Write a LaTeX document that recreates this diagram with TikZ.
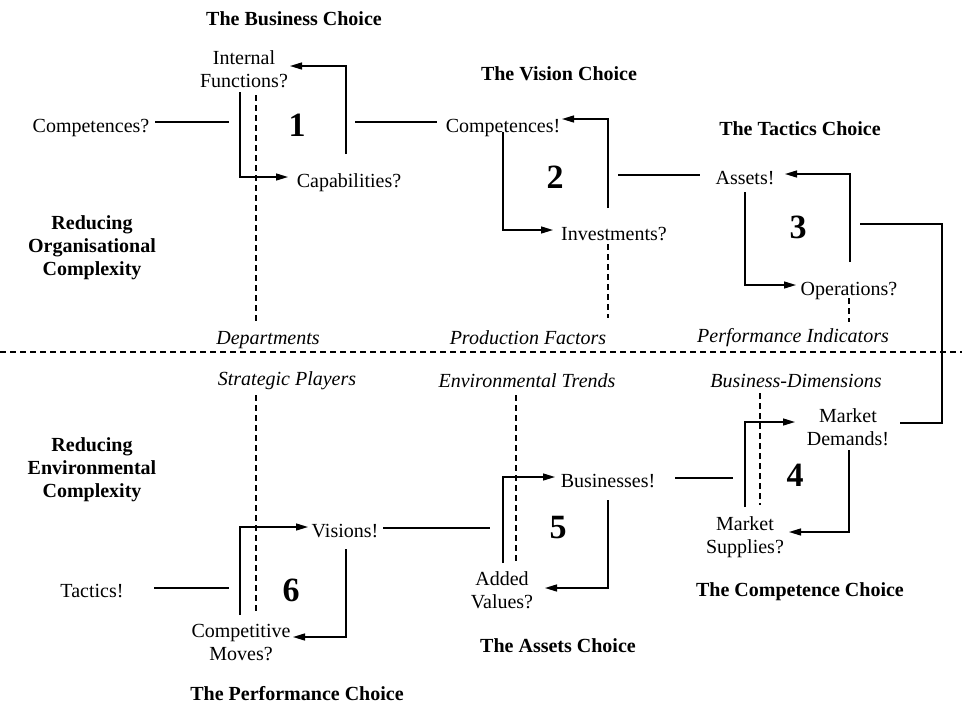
\documentclass[tikz,border=0pt]{standalone}
\usepackage{fontspec}
\setmainfont{Liberation Serif}
\usetikzlibrary{arrows.meta}
\begin{document}
\begin{tikzpicture}[x=1pt,y=-1pt,
  lbl/.style={inner sep=0pt, align=center, font=\fontsize{20}{23}\selectfont},
  ttl/.style={inner sep=0pt, align=center, font=\fontsize{20}{23}\selectfont\bfseries},
  dimlbl/.style={inner sep=0pt, align=center, font=\fontsize{20}{23}\selectfont\itshape},
  num/.style={inner sep=0pt, font=\fontsize{34}{40}\selectfont\bfseries},
  link/.style={line width=1.4pt},
  flow/.style={link, -{Triangle[length=12pt,width=7pt]}},
  guide/.style={line width=1.1pt, dash pattern=on 6pt off 4pt},
]
\useasboundingbox (0,0) rectangle (962,705);

% ---------- side captions ----------
\node[ttl] (orgcx) at (92,248) {Reducing\\Organisational\\Complexity};
\node[ttl] (envcx) at (92,470) {Reducing\\Environmental\\Complexity};

% ---------- divider between the two halves ----------
\coordinate (divL) at (0,352);
\coordinate (divR) at (962,352);
\draw[guide] (divL) -- (divR);

% ---------- 1: the business choice ----------
\node[ttl] (t1) at (294,19) {The Business Choice};
\node[lbl] (intf) at (244,69) {Internal\\Functions?};
\node[lbl] (compq) at (91,128) {Competences?};
\node[lbl] (capq) at (349,183) {Capabilities?};
\node[num] (n1) at (297,125) {1};
\node[dimlbl] (dept) at (268,340) {Departments};
\coordinate (a1s) at (240,92);  \coordinate (a1k) at (240,177); \coordinate (a1t) at (288,177);
\coordinate (b1s) at (346,154); \coordinate (b1k) at (346,66);  \coordinate (b1t) at (290,66);
\coordinate (d1s) at (256,95);  \coordinate (d1e) at (256,321);
\coordinate (l1s) at (155,122); \coordinate (l1e) at (229,122);
\coordinate (m1s) at (355,122); \coordinate (m1e) at (437,122);
\draw[flow] (a1s) -- (a1k) -- (a1t);
\draw[flow] (b1s) -- (b1k) -- (b1t);
\draw[guide] (d1s) -- (d1e);
\draw[link] (l1s) -- (l1e);
\draw[link] (m1s) -- (m1e);

% ---------- 2: the vision choice ----------
\node[ttl] (t2) at (559,74) {The Vision Choice};
\node[lbl] (compx) at (503,128) {Competences!};
\node[lbl] (invq) at (614,234) {Investments?};
\node[num] (n2) at (555,177) {2};
\node[dimlbl] (prodf) at (528,338) {Production Factors};
\coordinate (a2s) at (503,132); \coordinate (a2k) at (503,230); \coordinate (a2t) at (553,230);
\coordinate (b2s) at (608,208); \coordinate (b2k) at (608,119); \coordinate (b2t) at (562,119);
\coordinate (d2s) at (608,244); \coordinate (d2e) at (608,318);
\coordinate (m2s) at (618,175); \coordinate (m2e) at (700,175);
\draw[flow] (a2s) -- (a2k) -- (a2t);
\draw[flow] (b2s) -- (b2k) -- (b2t);
\draw[guide] (d2s) -- (d2e);
\draw[link] (m2s) -- (m2e);

% ---------- 3: the tactics choice ----------
\node[ttl] (t3) at (800,129) {The Tactics Choice};
\node[lbl] (assx) at (745,178) {Assets!};
\node[lbl] (opsq) at (849,291) {Operations?};
\node[num] (n3) at (798,227) {3};
\node[dimlbl] (perfi) at (793,338) {Performance Indicators};
\coordinate (a3s) at (745,192); \coordinate (a3k) at (745,285); \coordinate (a3t) at (796,285);
\coordinate (b3s) at (850,262); \coordinate (b3k) at (850,174); \coordinate (b3t) at (785,174);
\coordinate (d3s) at (849,298); \coordinate (d3e) at (849,322);
\coordinate (m3s) at (860,224); \coordinate (m3k) at (942,224);
\coordinate (m3j) at (942,423); \coordinate (m3e) at (900,423);
\draw[flow] (a3s) -- (a3k) -- (a3t);
\draw[flow] (b3s) -- (b3k) -- (b3t);
\draw[guide] (d3s) -- (d3e);
\draw[link] (m3s) -- (m3k) -- (m3j) -- (m3e);

% ---------- 4: the competence choice ----------
\node[dimlbl] (bdim) at (796,381) {Business-Dimensions};
\node[lbl] (mdem) at (848,427) {Market\\Demands!};
\node[lbl] (msup) at (745,537) {Market\\Supplies?};
\node[num] (n4) at (795,475) {4};
\node[ttl] (t4) at (800,592) {The Competence Choice};
\coordinate (a4s) at (745,507); \coordinate (a4k) at (745,422); \coordinate (a4t) at (795,422);
\coordinate (b4s) at (849,450); \coordinate (b4k) at (849,532); \coordinate (b4t) at (789,532);
\coordinate (d4s) at (760,393); \coordinate (d4e) at (760,505);
\coordinate (m4s) at (675,478); \coordinate (m4e) at (733,478);
\draw[flow] (a4s) -- (a4k) -- (a4t);
\draw[flow] (b4s) -- (b4k) -- (b4t);
\draw[guide] (d4s) -- (d4e);
\draw[link] (m4s) -- (m4e);

% ---------- 5: the assets choice ----------
\node[dimlbl] (envt) at (527,381) {Environmental Trends};
\node[lbl] (busx) at (608,481) {Businesses!};
\node[lbl] (addv) at (502,590) {Added\\Values?};
\node[num] (n5) at (558,528) {5};
\node[ttl] (t5) at (558,646) {The Assets Choice};
\coordinate (a5s) at (503,563); \coordinate (a5k) at (503,477); \coordinate (a5t) at (555,477);
\coordinate (b5s) at (608,500); \coordinate (b5k) at (608,588); \coordinate (b5t) at (545,588);
\coordinate (d5s) at (516,395); \coordinate (d5e) at (516,563);
\coordinate (m5s) at (383,528); \coordinate (m5e) at (490,528);
\draw[flow] (a5s) -- (a5k) -- (a5t);
\draw[flow] (b5s) -- (b5k) -- (b5t);
\draw[guide] (d5s) -- (d5e);
\draw[link] (m5s) -- (m5e);

% ---------- 6: the performance choice ----------
\node[dimlbl] (strp) at (287,381) {Strategic Players};
\node[lbl] (visx) at (345,531) {Visions!};
\node[lbl] (cmov) at (241,643) {Competitive\\Moves?};
\node[lbl] (tacx) at (92,591) {Tactics!};
\node[num] (n6) at (291,590) {6};
\node[ttl] (t6) at (297,694) {The Performance Choice};
\coordinate (a6s) at (240,615); \coordinate (a6k) at (240,527); \coordinate (a6t) at (308,527);
\coordinate (b6s) at (346,549); \coordinate (b6k) at (346,637); \coordinate (b6t) at (293,637);
\coordinate (d6s) at (256,395); \coordinate (d6e) at (256,612);
\coordinate (m6s) at (154,588); \coordinate (m6e) at (229,588);
\draw[flow] (a6s) -- (a6k) -- (a6t);
\draw[flow] (b6s) -- (b6k) -- (b6t);
\draw[guide] (d6s) -- (d6e);
\draw[link] (m6s) -- (m6e);
\end{tikzpicture}
\end{document}
